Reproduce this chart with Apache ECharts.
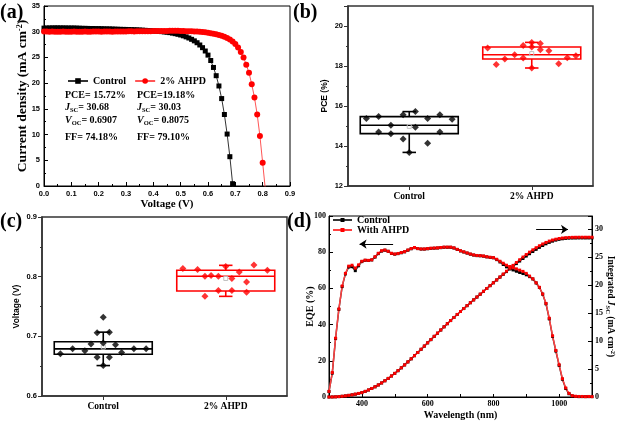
<!DOCTYPE html>
<html><head><meta charset="utf-8">
<script src="https://cdn.jsdelivr.net/npm/echarts@6/dist/echarts.min.js"></script>
<style>html,body{margin:0;padding:0;background:#fff}#c{width:620px;height:422px}</style>
</head><body><div id="c"></div>
<script>
// ---------- Panel (a): J-V curves ----------
const voltControl = [0.00,0.01,0.02,0.03,0.04,0.05,0.06,0.07,0.08,0.09,0.10,0.11,0.12,0.13,0.14,0.15,0.16,0.17,0.18,0.19,0.20,0.21,0.22,0.23,0.24,0.25,0.26,0.27,0.28,0.29,0.30,0.31,0.32,0.33,0.34,0.35,0.36,0.37,0.38,0.39,0.40,0.41,0.42,0.43,0.44,0.45,0.46,0.47,0.48,0.49,0.50,0.51,0.52,0.53,0.54,0.55,0.56,0.57,0.58,0.59,0.60,0.61,0.62,0.63,0.64,0.65,0.66,0.67,0.68,0.69,0.70];
const jControl = [30.70,30.72,30.73,30.74,30.75,30.75,30.74,30.74,30.73,30.72,30.72,30.72,30.70,30.68,30.66,30.65,30.64,30.62,30.62,30.60,30.60,30.58,30.56,30.55,30.54,30.52,30.50,30.48,30.46,30.45,30.44,30.42,30.40,30.38,30.36,30.33,30.30,30.27,30.24,30.20,30.16,30.12,30.08,30.02,29.96,29.90,29.82,29.73,29.62,29.50,29.36,29.20,29.00,28.78,28.52,28.22,27.86,27.42,26.90,26.25,25.45,24.40,23.05,21.45,19.45,17.00,13.90,10.10,5.70,0.45,-5.00];
const voltAhpd = [0.00,0.01,0.02,0.03,0.04,0.05,0.06,0.07,0.08,0.09,0.10,0.11,0.12,0.13,0.14,0.15,0.16,0.17,0.18,0.19,0.20,0.21,0.22,0.23,0.24,0.25,0.26,0.27,0.28,0.29,0.30,0.31,0.32,0.33,0.34,0.35,0.36,0.37,0.38,0.39,0.40,0.41,0.42,0.43,0.44,0.45,0.46,0.47,0.48,0.49,0.50,0.51,0.52,0.53,0.54,0.55,0.56,0.57,0.58,0.59,0.60,0.61,0.62,0.63,0.64,0.65,0.66,0.67,0.68,0.69,0.70,0.71,0.72,0.73,0.74,0.75,0.76,0.77,0.78,0.79,0.80,0.81];
const jAhpd = [30.05,30.02,30.00,30.03,30.01,29.98,30.00,30.02,29.99,29.97,30.00,30.02,30.00,29.98,30.01,30.03,30.00,29.99,30.02,30.04,30.02,30.00,30.03,30.05,30.03,30.01,30.04,30.06,30.05,30.04,30.06,30.08,30.07,30.06,30.08,30.10,30.09,30.10,30.11,30.10,30.12,30.13,30.12,30.14,30.15,30.16,30.18,30.20,30.19,30.17,30.15,30.13,30.11,30.09,30.07,30.05,30.02,29.99,29.95,29.88,29.80,29.72,29.62,29.50,29.38,29.22,29.02,28.78,28.50,28.12,27.60,26.95,26.05,25.00,23.60,22.00,19.80,17.20,13.90,9.70,4.50,-0.80];
const seriesNamesA = ['Control', '2% AHPD'];
const statsControl = ['PCE= 15.72%', '{i|J}{s|SC}{n|= 30.68}', '{i|V}{s|OC}{n|= 0.6907}', 'FF= 74.18%'];
const statsAhpd = ['PCE=19.18%', '{i|J}{s|SC}{n|= 30.03}', '{i|V}{s|OC}{n|= 0.8075}', 'FF= 79.10%'];

// ---------- Panels (b),(c): box plots ----------
const groupNames = ['Control', '2% AHPD'];
const pceControlX = [0.65,0.75,0.75,0.85,0.85,0.95,0.95,1.05,1.05,1.15,1.15,1.25,1.25,1.35,1.00];
const pceControlY = [15.37,15.47,14.70,15.04,14.61,15.56,14.35,15.72,14.94,15.37,14.14,15.56,14.70,15.34,13.68];
const pceAhpdX = [1.64,1.71,1.78,1.86,1.93,1.93,2.00,2.00,2.07,2.07,2.14,2.22,2.29,2.36,2.00];
const pceAhpdY = [18.90,18.08,18.35,18.56,19.03,18.40,19.18,18.95,19.13,18.81,18.76,18.11,18.41,18.51,17.90];
// [x, min, Q1, median, Q3, max, mean]
const pceBoxControl = [1, 13.68, 14.62, 15.04, 15.47, 15.72, 14.98];
const pceBoxAhpd = [2, 17.90, 18.35, 18.56, 18.95, 19.18, 18.62];

const vocControlX = [0.65,0.75,0.85,0.90,0.95,0.95,1.00,1.00,1.05,1.05,1.10,1.15,1.25,1.35,1.00];
const vocControlY = [0.671,0.679,0.676,0.687,0.706,0.665,0.732,0.689,0.707,0.665,0.686,0.673,0.679,0.679,0.651];
const vocAhpdX = [1.65,1.77,1.83,1.88,1.83,1.94,1.94,2.00,2.05,2.05,2.11,2.17,2.17,2.23,2.34];
const vocAhpdY = [0.8135,0.812,0.8006,0.802,0.767,0.8006,0.777,0.817,0.797,0.777,0.808,0.791,0.774,0.8195,0.8107];
const vocBoxControl = [1, 0.651, 0.670, 0.679, 0.691, 0.707, 0.682];
const vocBoxAhpd = [2, 0.767, 0.776, 0.8006, 0.8107, 0.819, 0.797];

// ---------- Panel (d): EQE and integrated Jsc ----------
const wavelength = [300,310,320,330,340,350,360,370,380,390,400,410,420,430,440,450,460,470,480,490,500,510,520,530,540,550,560,570,580,590,600,610,620,630,640,650,660,670,680,690,700,710,720,730,740,750,760,770,780,790,800,810,820,830,840,850,860,870,880,890,900,910,920,930,940,950,960,970,980,990,1000,1010,1020,1030,1040,1050,1060,1070,1080,1090,1100];
const eqeControl = [3.0,13.2,32.3,48.4,61.0,68.0,71.8,72.0,69.8,72.5,74.8,75.5,75.4,75.7,77.3,79.2,80.6,81.1,80.5,79.3,78.9,79.2,79.7,80.2,81.1,81.9,82.5,82.0,81.7,81.7,81.9,82.1,82.2,82.3,82.5,82.7,82.7,82.7,82.3,81.5,80.7,80.1,79.5,78.9,78.4,78.1,78.0,77.8,77.4,77.1,76.9,75.9,74.6,73.2,71.9,70.9,70.2,69.5,68.8,68.2,67.5,66.5,65.2,63.0,60.5,56.8,51.5,43.2,33.5,25.4,17.5,9.8,4.7,1.8,0.6,0.3,0.2,0.2,0.2,0.2,0.2];
const eqeAhpd = [3.1,13.5,32.5,48.6,61.3,68.3,72.3,72.8,71.2,73.0,75.0,75.6,75.5,75.8,77.5,79.4,80.8,81.2,80.5,79.4,79.0,79.3,79.8,80.3,81.2,82.0,82.6,82.0,81.8,81.8,82.0,82.2,82.3,82.4,82.6,82.8,82.8,82.8,82.4,81.6,80.8,80.2,79.6,79.0,78.5,78.2,78.1,77.9,77.5,77.2,77.0,76.1,75.0,73.9,72.8,72.1,71.4,70.8,70.1,69.4,68.3,66.8,65.3,63.1,60.6,56.9,51.7,43.5,33.8,25.7,17.8,10.1,5.0,2.0,0.7,0.4,0.3,0.3,0.2,0.3,0.2];
const jscControl = [0.00,0.01,0.03,0.07,0.13,0.20,0.29,0.39,0.50,0.63,0.78,1.00,1.25,1.52,1.82,2.15,2.51,2.90,3.32,3.76,4.22,4.71,5.22,5.74,6.28,6.83,7.39,7.96,8.53,9.11,9.69,10.27,10.85,11.42,11.99,12.56,13.12,13.68,14.23,14.77,15.30,15.83,16.35,16.87,17.38,17.89,18.40,18.91,19.42,19.93,20.44,20.95,21.46,21.96,22.45,22.93,23.41,23.88,24.34,24.79,25.23,25.65,26.05,26.43,26.79,27.12,27.42,27.68,27.90,28.08,28.22,28.32,28.39,28.43,28.45,28.46,28.47,28.47,28.47,28.47,28.47];
const jscAhpd = [0.00,0.01,0.03,0.07,0.13,0.20,0.29,0.39,0.51,0.64,0.79,1.01,1.26,1.53,1.83,2.16,2.52,2.91,3.33,3.77,4.23,4.72,5.23,5.75,6.29,6.84,7.40,7.97,8.54,9.12,9.70,10.28,10.86,11.43,12.00,12.57,13.13,13.69,14.24,14.78,15.31,15.84,16.36,16.88,17.39,17.90,18.41,18.92,19.43,19.94,20.45,20.96,21.48,22.00,22.52,23.04,23.56,24.07,24.57,25.05,25.50,25.93,26.34,26.72,27.07,27.39,27.67,27.91,28.10,28.25,28.37,28.46,28.52,28.56,28.58,28.59,28.60,28.60,28.60,28.60,28.60];
const seriesNamesD = ['Control ', 'With AHPD'];
const arrowLeft = [[495, 84.5], [393, 84.5]];
const arrowRight = [[930, 30], [1027, 30]];

// ---------- helpers ----------
const zip = (xs, ys) => xs.map((x, i) => [x, ys[i]]);
const SERIF = '"Liberation Serif", "Times New Roman", serif';
const SANS = '"Liberation Sans", Arial, sans-serif';
const RED = '#ff0000';

function boxRender(color) {
  return function (params, api) {
    const x = api.value(0);
    const pMn = api.coord([x, api.value(1)]);
    const pQ1 = api.coord([x, api.value(2)]);
    const pMd = api.coord([x, api.value(3)]);
    const pQ3 = api.coord([x, api.value(4)]);
    const pMx = api.coord([x, api.value(5)]);
    const pMean = api.coord([x, api.value(6)]);
    const hw = api.size([0.4, 0])[0];
    const cw = api.size([0.055, 0])[0];
    const cx = pMd[0];
    const st = { stroke: color, lineWidth: 1.6, fill: null };
    return {
      type: 'group',
      children: [
        { type: 'rect', shape: { x: cx - hw, y: pQ3[1], width: 2 * hw, height: pQ1[1] - pQ3[1] }, style: { stroke: color, fill: null, lineWidth: 1.6 } },
        { type: 'line', shape: { x1: cx - hw, y1: pMd[1], x2: cx + hw, y2: pMd[1] }, style: st },
        { type: 'line', shape: { x1: cx, y1: pQ3[1], x2: cx, y2: pMx[1] }, style: st },
        { type: 'line', shape: { x1: cx, y1: pQ1[1], x2: cx, y2: pMn[1] }, style: st },
        { type: 'line', shape: { x1: cx - cw, y1: pMx[1], x2: cx + cw, y2: pMx[1] }, style: st },
        { type: 'line', shape: { x1: cx - cw, y1: pMn[1], x2: cx + cw, y2: pMn[1] }, style: st },
        { type: 'rect', shape: { x: pMean[0] - 2, y: pMean[1] - 2, width: 4, height: 4 }, style: { stroke: '#c0c0c0', fill: null, lineWidth: 1 } }
      ]
    };
  };
}

const axisLineBlack = { show: true, lineStyle: { color: '#000', width: 1 } };
const axisLineGrey = { show: true, lineStyle: { color: '#333', width: 1.5 } };

function catAxis(gridIndex) {
  return {
    gridIndex, type: 'value', min: 0.5, max: 2.5,
    axisLine: axisLineGrey,
    axisTick: { show: true, inside: false, length: 4, customValues: [1, 2], lineStyle: { color: '#333', width: 1 } },
    axisLabel: { customValues: [1, 2], formatter: v => groupNames[Math.round(v) - 1], fontFamily: SERIF, fontWeight: 'bold', fontSize: 9.5, color: '#000', margin: 6 },
    splitLine: { show: false }
  };
}

const richTitle = {
  n: { fontFamily: SERIF, fontWeight: 'bold', fontSize: 13.5, color: '#000', lineHeight: 15 },
  p: { fontFamily: SERIF, fontWeight: 'bold', fontSize: 8, color: '#000', lineHeight: 8, verticalAlign: 'top' }
};
const richTitleD = {
  n: { fontFamily: SERIF, fontWeight: 'bold', fontSize: 9.5, color: '#000', lineHeight: 12 },
  i: { fontFamily: SERIF, fontWeight: 'bold', fontStyle: 'italic', fontSize: 9.5, color: '#000', lineHeight: 12 },
  s: { fontFamily: SERIF, fontWeight: 'bold', fontSize: 6.5, color: '#000', lineHeight: 6, verticalAlign: 'bottom' },
  p: { fontFamily: SERIF, fontWeight: 'bold', fontSize: 6.5, color: '#000', lineHeight: 6, verticalAlign: 'top' }
};

const statRich = {
  n: { fontFamily: SERIF, fontWeight: 'bold', fontSize: 10, fill: '#000', lineHeight: 13 },
  i: { fontFamily: SERIF, fontWeight: 'bold', fontStyle: 'italic', fontSize: 10, fill: '#000', lineHeight: 13 },
  s: { fontFamily: SERIF, fontWeight: 'bold', fontSize: 6.5, fill: '#000', lineHeight: 6, verticalAlign: 'bottom' }
};
const statRowsY = [90, 102, 115, 132];
const statText = [];
statsControl.forEach((t, k) => statText.push({ type: 'text', left: 65, top: statRowsY[k], style: { text: t.startsWith('{') ? t : '{n|' + t + '}', rich: statRich } }));
statsAhpd.forEach((t, k) => statText.push({ type: 'text', left: 137, top: statRowsY[k], style: { text: t.startsWith('{') ? t : '{n|' + t + '}', rich: statRich } }));

const panelLabels = [['(a)', 0, 3], ['(b)', 293, 3], ['(c)', 0, 212], ['(d)', 287, 212]].map(([t, x, y]) => ({
  type: 'text', left: x, top: y, z: 100, style: { text: t, font: 'bold 20px ' + SERIF, fill: '#000' }
}));

const tickFontSans = { fontFamily: SANS, fontSize: 7.5, fontWeight: 'bold', color: '#000' };
const tickFontSerif = { fontFamily: SERIF, fontSize: 8, fontWeight: 'bold', color: '#000' };
const option = {
  animation: false,
  backgroundColor: '#fff',
  grid: [
    { left: 44, top: 6, width: 246, height: 180, show: true, borderColor: '#000', borderWidth: 1 },
    { left: 348, top: 6, width: 245, height: 180, show: true, borderColor: '#333', borderWidth: 1.5 },
    { left: 42, top: 217, width: 245, height: 179, show: true, borderColor: '#333', borderWidth: 1.5 },
    { left: 329, top: 216, width: 263, height: 181, show: true, borderColor: '#000', borderWidth: 1 }
  ],
  legend: [
    { data: seriesNamesA, left: 62, top: 71, padding: 5, orient: 'horizontal', itemWidth: 20, itemHeight: 7, itemGap: 8,
      textStyle: { fontFamily: SERIF, fontWeight: 'bold', fontSize: 10, color: '#000' } },
    { data: seriesNamesD, left: 327, top: 210, padding: 5, orient: 'vertical', itemWidth: 19, itemHeight: 5, itemGap: 0,
      formatter: n => n.trim(), textStyle: { fontFamily: SERIF, fontWeight: 'bold', fontSize: 10, color: '#000' } }
  ],
  xAxis: [
    { gridIndex: 0, type: 'value', min: 0, max: 0.9, interval: 0.1,
      axisLine: axisLineBlack, axisTick: { inside: true, length: 4, lineStyle: { color: '#000' } },
      minorTick: { show: true, splitNumber: 2, length: 2, lineStyle: { color: '#000' } },
      axisLabel: Object.assign({ formatter: v => v.toFixed(1), margin: 4 }, tickFontSans),
      splitLine: { show: false },
      name: 'Voltage (V)', nameLocation: 'middle', nameGap: 18, nameMoveOverlap: false,
      nameTextStyle: { fontFamily: SERIF, fontWeight: 'bold', fontSize: 11, color: '#000', verticalAlign: 'middle' } },
    catAxis(1),
    catAxis(2),
    { gridIndex: 3, type: 'value', min: 300, max: 1100, interval: 100,
      axisLine: axisLineBlack, axisTick: { inside: true, length: 3, lineStyle: { color: '#000' } },
      axisLabel: Object.assign({ customValues: [400, 600, 800, 1000], formatter: v => String(v), margin: 3 }, tickFontSerif),
      splitLine: { show: false },
      name: 'Wavelength (nm)', nameLocation: 'middle', nameGap: 18, nameMoveOverlap: false,
      nameTextStyle: { fontFamily: SERIF, fontWeight: 'bold', fontSize: 10, color: '#000', verticalAlign: 'middle' } }
  ],
  yAxis: [
    { gridIndex: 0, type: 'value', min: 0, max: 35, interval: 5,
      axisLine: axisLineBlack, axisTick: { inside: true, length: 4, lineStyle: { color: '#000' } },
      minorTick: { show: true, splitNumber: 2, length: 2, lineStyle: { color: '#000' } },
      axisLabel: Object.assign({ margin: 4 }, tickFontSans),
      splitLine: { show: false },
      name: '{n|Current density (mA cm}{p|-2}{n|)}', nameLocation: 'middle', nameGap: 21, nameMoveOverlap: false,
      nameTextStyle: { rich: richTitle, verticalAlign: 'middle' } },
    { gridIndex: 1, type: 'value', min: 12, max: 21, interval: 2,
      axisLine: axisLineGrey, axisTick: { inside: false, length: 4, lineStyle: { color: '#333' } },
      minorTick: { show: true, splitNumber: 2, length: 2, lineStyle: { color: '#333' } },
      axisLabel: Object.assign({ showMaxLabel: false, margin: 5 }, tickFontSans),
      splitLine: { show: false },
      name: 'PCE (%)', nameLocation: 'middle', nameGap: 23, nameMoveOverlap: false,
      nameTextStyle: { fontFamily: SANS, fontWeight: 'bold', fontSize: 8.5, color: '#000', verticalAlign: 'middle' } },
    { gridIndex: 2, type: 'value', min: 0.6, max: 0.9, interval: 0.1,
      axisLine: axisLineGrey, axisTick: { inside: false, length: 4, lineStyle: { color: '#333' } },
      minorTick: { show: true, splitNumber: 2, length: 2, lineStyle: { color: '#333' } },
      axisLabel: Object.assign({ formatter: v => v.toFixed(1), margin: 5 }, tickFontSans),
      splitLine: { show: false },
      name: 'Voltage (V)', nameLocation: 'middle', nameGap: 25, nameMoveOverlap: false,
      nameTextStyle: { fontFamily: SANS, fontWeight: 'bold', fontSize: 8.5, color: '#000', verticalAlign: 'middle' } },
    { gridIndex: 3, type: 'value', min: 0, max: 100, interval: 20,
      axisLine: axisLineBlack, axisTick: { inside: true, length: 4, lineStyle: { color: '#000' } },
      minorTick: { show: true, splitNumber: 2, length: 2, lineStyle: { color: '#000' } },
      axisLabel: Object.assign({ margin: 3 }, tickFontSerif),
      splitLine: { show: false },
      name: 'EQE (%)', nameLocation: 'middle', nameGap: 19, nameMoveOverlap: false,
      nameTextStyle: { fontFamily: SERIF, fontWeight: 'bold', fontSize: 10, color: '#000', verticalAlign: 'middle' } },
    { gridIndex: 3, type: 'value', position: 'right', min: 0, max: 32.4, interval: 5,
      axisLine: axisLineBlack, axisTick: { inside: true, length: 4, lineStyle: { color: '#000' } },
      minorTick: { show: true, splitNumber: 2, length: 2, lineStyle: { color: '#000' } },
      axisLabel: Object.assign({ showMaxLabel: false, margin: 3 }, tickFontSerif),
      splitLine: { show: false },
      name: '{n|Integrated }{i|J}{s|SC}{n| (mA cm}{p|-2}{n|)}', nameLocation: 'middle', nameRotate: -90, nameGap: 18, nameMoveOverlap: false,
      nameTextStyle: { rich: richTitleD, verticalAlign: 'middle' } }
  ],
  graphic: panelLabels.concat(statText),
  series: [
    // (a)
    { name: seriesNamesA[0], type: 'line', xAxisIndex: 0, yAxisIndex: 0, data: zip(voltControl, jControl),
      symbol: 'rect', symbolSize: 5, showAllSymbol: true, clip: true,
      lineStyle: { color: '#333', width: 1 }, itemStyle: { color: '#000' } },
    { name: seriesNamesA[1], type: 'line', xAxisIndex: 0, yAxisIndex: 0, data: zip(voltAhpd, jAhpd),
      symbol: 'circle', symbolSize: 6, showAllSymbol: true, clip: true,
      lineStyle: { color: '#ff5555', width: 1 }, itemStyle: { color: RED } },
    // (b)
    { type: 'custom', xAxisIndex: 1, yAxisIndex: 1, renderItem: boxRender('#000'), data: [pceBoxControl], encode: { x: 0, y: [1, 2, 3, 4, 5] }, z: 2 },
    { type: 'custom', xAxisIndex: 1, yAxisIndex: 1, renderItem: boxRender(RED), data: [pceBoxAhpd], encode: { x: 0, y: [1, 2, 3, 4, 5] }, z: 2 },
    { type: 'scatter', xAxisIndex: 1, yAxisIndex: 1, data: zip(pceControlX, pceControlY), symbol: 'diamond', symbolSize: 7, itemStyle: { color: '#000' }, z: 3 },
    { type: 'scatter', xAxisIndex: 1, yAxisIndex: 1, data: zip(pceAhpdX, pceAhpdY), symbol: 'diamond', symbolSize: 7, itemStyle: { color: RED }, z: 3 },
    // (c)
    { type: 'custom', xAxisIndex: 2, yAxisIndex: 2, renderItem: boxRender('#000'), data: [vocBoxControl], encode: { x: 0, y: [1, 2, 3, 4, 5] }, z: 2 },
    { type: 'custom', xAxisIndex: 2, yAxisIndex: 2, renderItem: boxRender(RED), data: [vocBoxAhpd], encode: { x: 0, y: [1, 2, 3, 4, 5] }, z: 2 },
    { type: 'scatter', xAxisIndex: 2, yAxisIndex: 2, data: zip(vocControlX, vocControlY), symbol: 'diamond', symbolSize: 7, itemStyle: { color: '#000' }, z: 3 },
    { type: 'scatter', xAxisIndex: 2, yAxisIndex: 2, data: zip(vocAhpdX, vocAhpdY), symbol: 'diamond', symbolSize: 7, itemStyle: { color: RED }, z: 3 },
    // (d)
    { name: seriesNamesD[0], type: 'line', xAxisIndex: 3, yAxisIndex: 3, data: zip(wavelength, eqeControl),
      symbol: 'rect', symbolSize: 3, showAllSymbol: true, lineStyle: { color: '#333', width: 1.5 }, itemStyle: { color: '#000' },
      markLine: { silent: true, symbol: ['none', 'arrow'], symbolSize: 7, label: { show: false }, lineStyle: { color: '#000', width: 1, type: 'solid' },
        data: [[{ coord: arrowLeft[0] }, { coord: arrowLeft[1] }]] } },
    { name: seriesNamesD[0], type: 'line', xAxisIndex: 3, yAxisIndex: 4, data: zip(wavelength, jscControl),
      symbol: 'rect', symbolSize: 3, showAllSymbol: true, lineStyle: { color: '#333', width: 1.5 }, itemStyle: { color: '#000' },
      markLine: { silent: true, symbol: ['none', 'arrow'], symbolSize: 7, label: { show: false }, lineStyle: { color: '#000', width: 1, type: 'solid' },
        data: [[{ coord: arrowRight[0] }, { coord: arrowRight[1] }]] } },
    { name: seriesNamesD[1], type: 'line', xAxisIndex: 3, yAxisIndex: 3, data: zip(wavelength, eqeAhpd),
      symbol: 'rect', symbolSize: 3, showAllSymbol: true, lineStyle: { color: '#ff4040', width: 1.5 }, itemStyle: { color: RED } },
    { name: seriesNamesD[1], type: 'line', xAxisIndex: 3, yAxisIndex: 4, data: zip(wavelength, jscAhpd),
      symbol: 'rect', symbolSize: 3, showAllSymbol: true, lineStyle: { color: '#ff4040', width: 1.5 }, itemStyle: { color: RED } }
  ]
};

const chart = echarts.init(document.getElementById('c'));
chart.setOption(option);
</script>
</body></html>
